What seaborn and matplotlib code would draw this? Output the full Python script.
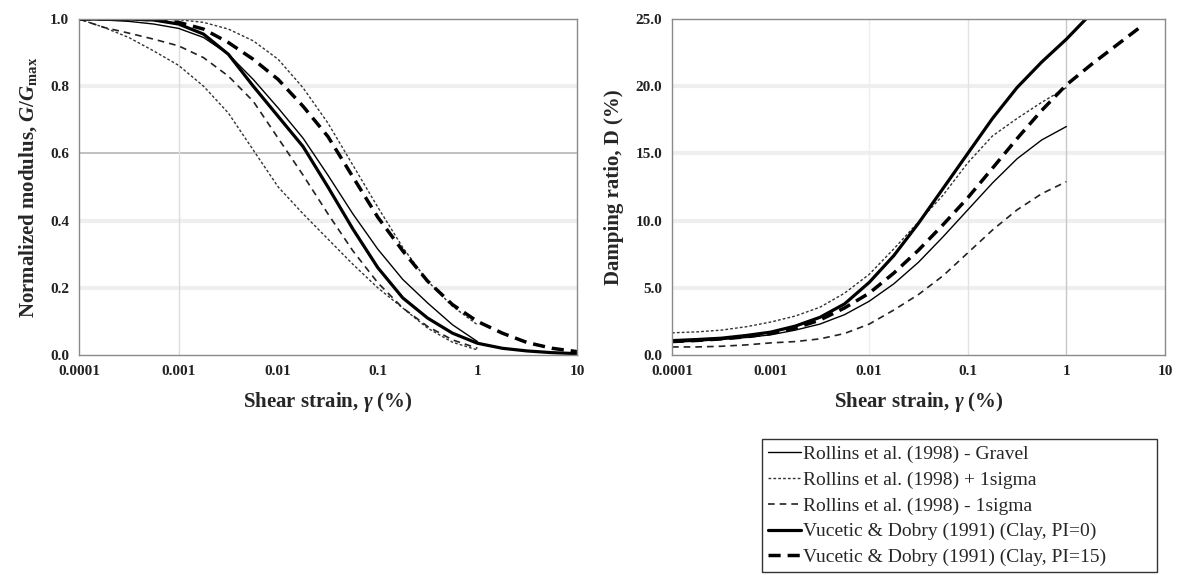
import numpy as np
import pandas as pd
import matplotlib
matplotlib.use("Agg")
import matplotlib.pyplot as plt
from matplotlib.ticker import FixedLocator, FixedFormatter, NullLocator
import seaborn as sns

# ---------------- data ----------------
strain = [1e-4, 1.78e-4, 3.16e-4, 5.62e-4, 1e-3, 1.78e-3, 3.16e-3, 5.62e-3,
          1e-2, 1.78e-2, 3.16e-2, 5.62e-2, 0.1, 0.178, 0.316, 0.562,
          1.0, 1.78, 3.16, 5.62, 10.0]
nan = np.nan

# G/Gmax
g_rollins = [1.0, 0.997, 0.993, 0.985, 0.972, 0.945, 0.895, 0.82, 0.735, 0.645,
             0.535, 0.42, 0.315, 0.225, 0.155, 0.09, 0.04, nan, nan, nan, nan]
g_plus = [1.0, 1.0, 1.0, 1.0, 0.998, 0.99, 0.97, 0.935, 0.88, 0.795,
          0.69, 0.565, 0.44, 0.32, 0.22, 0.145, 0.09, nan, nan, nan, nan]
g_lower_dotted = [1.0, 0.975, 0.945, 0.905, 0.862, 0.80, 0.72, 0.61, 0.50, 0.42,
                  0.345, 0.27, 0.20, 0.14, 0.08, 0.038, 0.015, nan, nan, nan, nan]
g_minus = [1.0, 0.975, 0.958, 0.94, 0.92, 0.885, 0.83, 0.755, 0.645, 0.535,
           0.42, 0.31, 0.215, 0.14, 0.085, 0.045, 0.02, nan, nan, nan, nan]
g_vd0 = [1.0, 1.0, 1.0, 0.997, 0.985, 0.955, 0.895, 0.80, 0.71, 0.62,
         0.50, 0.375, 0.26, 0.17, 0.11, 0.065, 0.035, 0.02, 0.012, 0.007, 0.004]
g_vd15 = [1.0, 1.0, 1.0, 0.998, 0.99, 0.97, 0.93, 0.88, 0.82, 0.74,
          0.65, 0.53, 0.41, 0.31, 0.22, 0.15, 0.10, 0.065, 0.037, 0.02, 0.01]

# Damping ratio (%)
d_rollins = [0.95, 1.03, 1.15, 1.3, 1.5, 1.85, 2.3, 3.0, 4.0, 5.3,
             6.9, 8.8, 10.8, 12.8, 14.6, 16.0, 17.0, nan, nan, nan, nan]
d_plus = [1.65, 1.72, 1.85, 2.1, 2.45, 2.9, 3.55, 4.6, 6.0, 7.9,
          9.9, 11.9, 14.3, 16.3, 17.6, 18.8, 19.9, nan, nan, nan, nan]
d_minus = [0.6, 0.6, 0.65, 0.75, 0.9, 1.0, 1.2, 1.6, 2.3, 3.35,
           4.5, 5.9, 7.6, 9.3, 10.8, 12.0, 12.9, nan, nan, nan, nan]
d_vd0 = [1.07, 1.15, 1.25, 1.45, 1.7, 2.15, 2.8, 3.8, 5.4, 7.4,
         9.8, 12.4, 15.0, 17.6, 19.9, 21.8, 23.5, 25.4, nan, nan, nan]
d_vd15 = [1.0, 1.08, 1.2, 1.35, 1.6, 2.0, 2.6, 3.5, 4.6, 6.1,
          7.8, 9.7, 11.7, 13.9, 16.1, 18.2, 20.1, 21.6, 23.0, 24.4, nan]

labels = ["Rollins et al. (1998) - Gravel",
          "Rollins et al. (1998) + 1sigma",
          "Rollins et al. (1998) - 1sigma",
          "Vucetic & Dobry (1991) (Clay, PI=0)",
          "Vucetic & Dobry (1991) (Clay, PI=15)"]

x_ticks = [1e-4, 1e-3, 1e-2, 1e-1, 1, 10]
x_tick_labels = ["0.0001", "0.001", "0.01", "0.1", "1", "10"]
g_ticks = [0.0, 0.2, 0.4, 0.6, 0.8, 1.0]
g_tick_labels = ["0.0", "0.2", "0.4", "0.6", "0.8", "1.0"]
d_ticks = [0, 5, 10, 15, 20, 25]
d_tick_labels = ["0.0", "5.0", "10.0", "15.0", "20.0", "25.0"]

# ---------------- styles ----------------
styles = {
    labels[0]: dict(color="black", linewidth=1.0, linestyle="-"),
    labels[1]: dict(color="#333333", linewidth=1.0, linestyle=(0, (2, 1.5))),
    labels[2]: dict(color="#222222", linewidth=1.2, linestyle=(0, (4, 3))),
    labels[3]: dict(color="black", linewidth=2.3, linestyle="-"),
    labels[4]: dict(color="black", linewidth=2.5, linestyle=(0, (3.5, 2))),
}

sns.set_theme(style="white")
plt.rcParams["font.family"] = ["Liberation Serif", "DejaVu Serif"]
plt.rcParams["mathtext.fontset"] = "custom"
plt.rcParams["mathtext.rm"] = "Liberation Serif:bold"
plt.rcParams["mathtext.it"] = "Liberation Serif:italic:bold"
plt.rcParams["mathtext.bf"] = "Liberation Serif:bold"

fig = plt.figure(figsize=(11.78, 5.75), dpi=100)
axL = fig.add_axes([79 / 1178, 1 - 355 / 575, 498 / 1178, 336 / 575])
axR = fig.add_axes([672 / 1178, 1 - 355 / 575, 493 / 1178, 336 / 575])

def frame(ax):
    for s in ax.spines.values():
        s.set_color("#8a8a8a")
        s.set_linewidth(1.0)
    ax.set_xscale("log")
    ax.xaxis.set_major_locator(FixedLocator(x_ticks))
    ax.xaxis.set_major_formatter(FixedFormatter(x_tick_labels))
    ax.xaxis.set_minor_locator(NullLocator())
    ax.set_xlim(1e-4, 10)
    ax.tick_params(axis="both", which="major", direction="in", length=3,
                   color="#aaaaaa", labelsize=11, pad=7)
    for t in ax.get_xticklabels() + ax.get_yticklabels():
        t.set_fontweight("bold")
        t.set_color("#222222")

# ---- left panel ----
gl_series = [(labels[0], g_rollins), (labels[1], g_plus), ("_lower", g_lower_dotted),
             (labels[2], g_minus), (labels[3], g_vd0), (labels[4], g_vd15)]
for y in [0.2, 0.4, 0.8]:
    axL.axhline(y, color="#efefef", linewidth=3, zorder=0)
axL.axhline(0.6, color="#b5b5b5", linewidth=1.2, zorder=0)
axL.axvline(1e-3, color="#dddddd", linewidth=1.0, zorder=0)
for name, vals in gl_series:
    st = styles[labels[1]] if name == "_lower" else styles[name]
    df = pd.DataFrame({"strain": strain, "val": vals}).dropna()
    sns.lineplot(data=df, x="strain", y="val", ax=axL, legend=False, **st)
axL.set_ylim(0, 1.0)
axL.yaxis.set_major_locator(FixedLocator(g_ticks))
axL.yaxis.set_major_formatter(FixedFormatter(g_tick_labels))
frame(axL)
axL.set_xlabel(r"Shear strain, $\gamma$ (%)", fontsize=15, fontweight="bold", labelpad=9)
axL.set_ylabel(r"Normalized modulus, $G/G_{\mathrm{max}}$", fontsize=15,
               fontweight="bold", labelpad=8)

# ---- right panel ----
dr_series = [(labels[0], d_rollins), (labels[1], d_plus), (labels[2], d_minus),
             (labels[3], d_vd0), (labels[4], d_vd15)]
for y in [5, 10, 15, 20]:
    axR.axhline(y, color="#efefef", linewidth=3, zorder=0)
axR.axvline(1, color="#c8c8c8", linewidth=1.0, zorder=0)
axR.axvline(0.1, color="#e2e2e2", linewidth=1.0, zorder=0)
axR.axvline(0.01, color="#eeeeee", linewidth=1.0, zorder=0)
for name, vals in dr_series:
    df = pd.DataFrame({"strain": strain, "val": vals}).dropna()
    sns.lineplot(data=df, x="strain", y="val", ax=axR, legend=False, label=name, **styles[name])
axR.set_ylim(0, 25)
axR.yaxis.set_major_locator(FixedLocator(d_ticks))
axR.yaxis.set_major_formatter(FixedFormatter(d_tick_labels))
frame(axR)
axR.set_xlabel(r"Shear strain, $\gamma$ (%)", fontsize=15, fontweight="bold", labelpad=9)
axR.set_ylabel("Damping ratio, D (%)", fontsize=15, fontweight="bold", labelpad=8)

h, l = axR.get_legend_handles_labels()
leg = fig.legend(h, l, loc="upper left",
                 bbox_to_anchor=(762 / 1178, 1 - 440 / 575, 395 / 1178, 0.001),
                 mode="expand",
                 frameon=True, fancybox=False, edgecolor="black", fontsize=14,
                 handlelength=1.7, handletextpad=0.1, labelspacing=0.42,
                 borderpad=0.3, borderaxespad=0)
leg.get_frame().set_linewidth(1.0)

fig.savefig("out.png", dpi=100)
